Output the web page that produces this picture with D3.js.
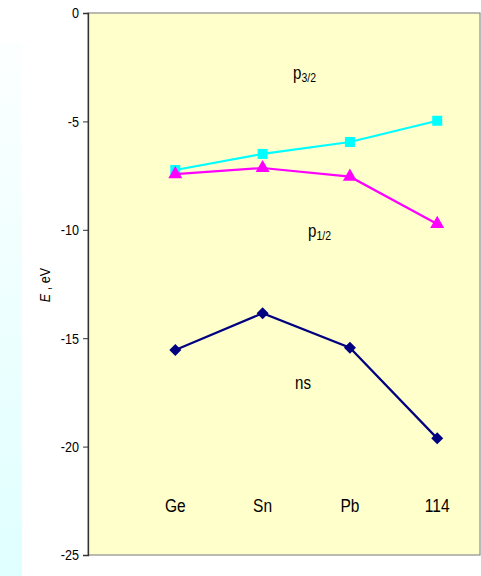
<!DOCTYPE html>
<html><head><meta charset="utf-8">
<script src="https://cdn.jsdelivr.net/npm/d3@7"></script>
<style>body{margin:0;background:#fff;}svg{display:block;font-family:"Liberation Sans",Arial,sans-serif;}</style>
</head><body>
<svg id="c" width="481" height="576"></svg>
<script>
const categories = ["Ge", "Sn", "Pb", "114"];
const p32 = [-7.24, -6.50, -5.95, -4.97];
const p12 = [-7.43, -7.15, -7.55, -9.73];
const ns  = [-15.54, -13.85, -15.44, -19.62];
const yTicks = [0, -5, -10, -15, -20, -25];
const SX = 0.84; // horizontal condensing to mimic a narrow face

const svg = d3.select("#c");
const defs = svg.append("defs");
const g = defs.append("linearGradient").attr("id","strip").attr("x1",0).attr("y1",0).attr("x2",0).attr("y2",1);
g.append("stop").attr("offset","0%").attr("stop-color","#fcffff");
g.append("stop").attr("offset","100%").attr("stop-color","#e0ffff");
svg.append("rect").attr("x",0).attr("y",43).attr("width",22).attr("height",533).attr("fill","url(#strip)");

const L = 88, R = 480, T = 13, B = 555;
const y = d3.scaleLinear().domain([0, -25]).range([T, B]);
const x = d3.scaleLinear().domain([0, 4.49]).range([L, R]);

svg.append("rect").attr("x",L).attr("y",T).attr("width",R-L).attr("height",B-T)
  .attr("fill","#ffffcc").attr("stroke","#8c8c8c").attr("stroke-width",1.2);

const ax = svg.append("g").attr("transform",`translate(${L},0)`)
  .call(d3.axisLeft(y).tickValues(yTicks).tickSize(5).tickPadding(4).tickFormat(d => String(d)));
ax.attr("font-size",15);
ax.select(".domain").attr("stroke","#333").attr("stroke-width",1.3);
ax.selectAll(".tick line").attr("stroke","#333");
ax.selectAll(".tick text").attr("font-size",15).attr("fill","#000")
  .attr("font-family","Liberation Sans, Arial, sans-serif")
  .attr("x", null).attr("transform", `translate(-9,0) scale(${SX},1)`);

const lbl = svg.append("text").attr("transform",`translate(50,285) rotate(-90) scale(${SX},1)`)
  .attr("text-anchor","middle").attr("font-size",15);
lbl.append("tspan").attr("font-style","italic").text("E");
lbl.append("tspan").text(" , eV");

const line = d3.line().x((d,i)=>x(i+1)).y(d=>y(d));
function series(vals, color, sym, size, rot){
  svg.append("path").datum(vals).attr("d",line).attr("fill","none").attr("stroke",color).attr("stroke-width",2.2);
  svg.selectAll(null).data(vals).enter().append("path")
    .attr("transform",(d,i)=>`translate(${x(i+1)},${y(d)}) rotate(${rot||0})`)
    .attr("d",d3.symbol().type(sym).size(size)).attr("fill",color);
}
series(p32, "#00ffff", d3.symbolSquare, 100);
series(p12, "#ff00ff", d3.symbolTriangle, 85);
series(ns, "#000080", d3.symbolSquare, 72, 45);

svg.selectAll(null).data(categories).enter().append("text")
  .attr("transform",(d,i)=>`translate(${x(i+1)},${y(-23.0)}) scale(${SX},1)`)
  .attr("text-anchor","middle").attr("font-size",18.5).text(d=>d);

function orb(xp, yp, main, sub){
  const t = svg.append("text").attr("transform",`translate(${xp},${yp}) scale(${SX},1)`).attr("font-size",18);
  t.append("tspan").text(main);
  if(sub) t.append("tspan").attr("font-size",12.5).attr("dy",3).text(sub);
}
orb(293, 79, "p", "3/2");
orb(308, 237, "p", "1/2");
svg.append("text").attr("transform",`translate(303,389) scale(${SX},1)`)
  .attr("text-anchor","middle").attr("font-size",18).text("ns");
</script>
</body></html>
